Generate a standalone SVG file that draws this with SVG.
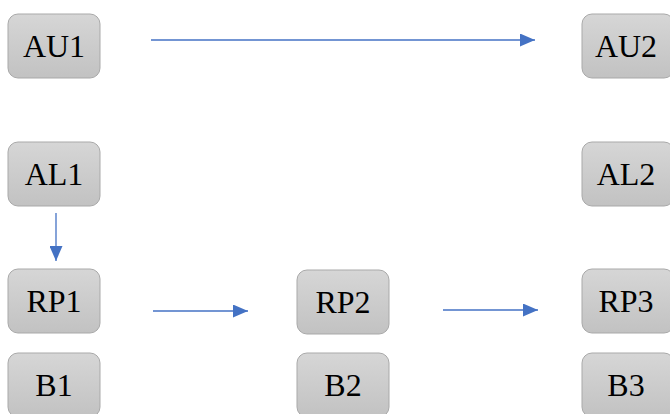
<svg xmlns="http://www.w3.org/2000/svg" width="670" height="414" viewBox="0 0 670 414">
<defs>
<linearGradient id="g" x1="0" y1="0" x2="0" y2="1">
<stop offset="0" stop-color="#d6d6d6"/>
<stop offset="1" stop-color="#c2c2c2"/>
</linearGradient>
<marker id="ah" markerWidth="15" markerHeight="13" refX="15" refY="6.5" orient="auto" markerUnits="userSpaceOnUse">
<path d="M0,0 L15,6.5 L0,13 Z" fill="#4472c4"/>
</marker>
<style>
.box{fill:url(#g);stroke:#a9a9a9;stroke-width:1}
.lbl{font-size:32px;fill:#000;text-anchor:middle}
.edge{stroke:#4472c4;stroke-width:1.3;fill:none;marker-end:url(#ah)}
</style>
</defs>
<rect width="670" height="414" fill="#fff"/>
<g font-family="'Liberation Serif', 'DejaVu Serif', serif">
<g id="AU1"><rect class="box" x="8" y="14" width="92" height="64" rx="10"/><text class="lbl" x="54" y="57">AU1</text></g>
<g id="AU2"><rect class="box" x="582" y="14" width="92" height="64" rx="10"/><text class="lbl" x="626" y="57">AU2</text></g>
<g id="AL1"><rect class="box" x="8" y="142" width="92" height="64" rx="10"/><text class="lbl" x="54" y="185">AL1</text></g>
<g id="AL2"><rect class="box" x="582" y="142" width="92" height="64" rx="10"/><text class="lbl" x="626" y="185">AL2</text></g>
<g id="RP1"><rect class="box" x="8" y="269" width="92" height="64" rx="10"/><text class="lbl" x="54" y="312">RP1</text></g>
<g id="RP2"><rect class="box" x="297" y="270" width="92" height="64" rx="10"/><text class="lbl" x="343" y="313">RP2</text></g>
<g id="RP3"><rect class="box" x="582" y="269" width="92" height="64" rx="10"/><text class="lbl" x="626" y="312">RP3</text></g>
<g id="B1"><rect class="box" x="8" y="353" width="92" height="64" rx="10"/><text class="lbl" x="54" y="396">B1</text></g>
<g id="B2"><rect class="box" x="297" y="353" width="92" height="64" rx="10"/><text class="lbl" x="343" y="396">B2</text></g>
<g id="B3"><rect class="box" x="582" y="353" width="92" height="64" rx="10"/><text class="lbl" x="626" y="396">B3</text></g>
</g>
<g id="connectors">
<line class="edge" x1="151" y1="40" x2="535" y2="40"/>
<line class="edge" x1="56" y1="213" x2="56" y2="261"/>
<line class="edge" x1="153" y1="311" x2="248" y2="311"/>
<line class="edge" x1="443" y1="310" x2="538" y2="310"/>
</g>
</svg>
